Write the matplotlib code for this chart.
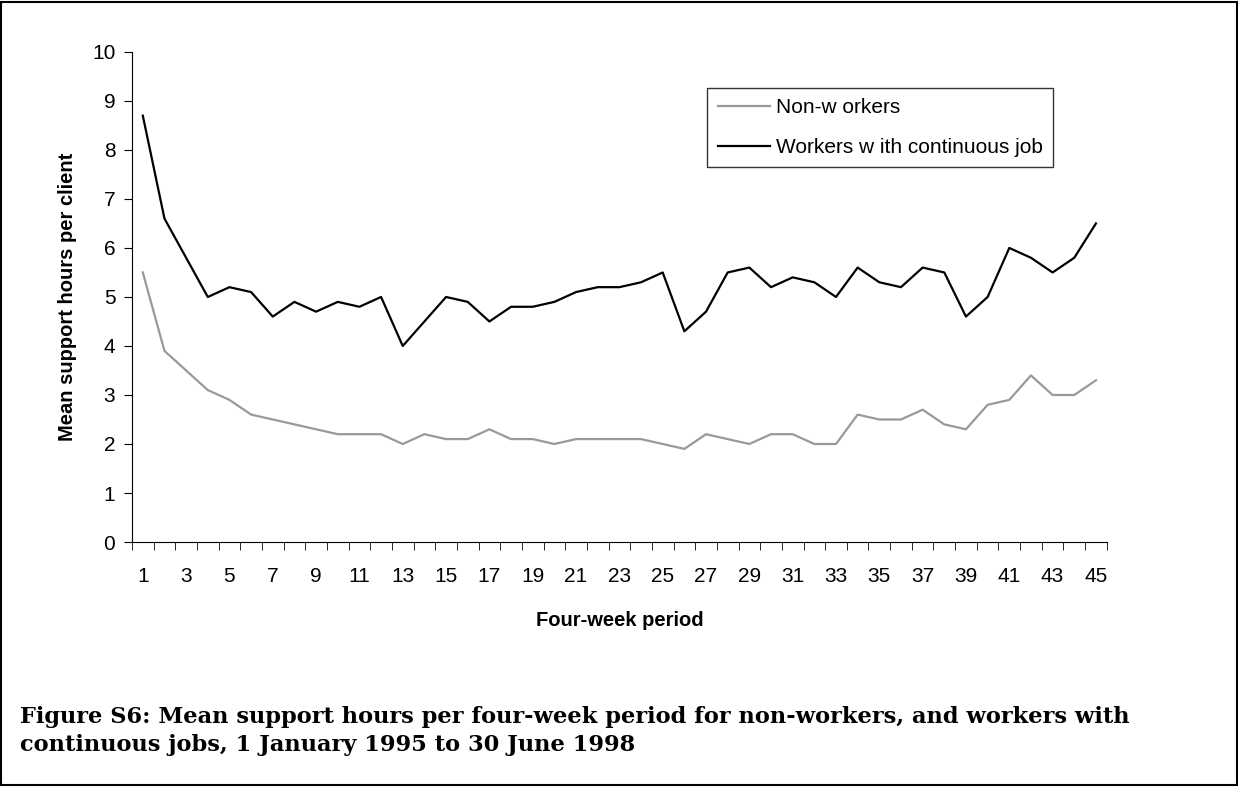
import matplotlib
matplotlib.use('Agg')
import matplotlib.pyplot as plt
from matplotlib.patches import Rectangle

# Periodos de cuatro semanas
periods = list(range(1, 46))

# Horas medias de apoyo por cliente
non_workers = [5.5, 3.9, 3.5, 3.1, 2.9, 2.6, 2.5, 2.4, 2.3, 2.2,
               2.2, 2.2, 2.0, 2.2, 2.1, 2.1, 2.3, 2.1, 2.1, 2.0,
               2.1, 2.1, 2.1, 2.1, 2.0, 1.9, 2.2, 2.1, 2.0, 2.2,
               2.2, 2.0, 2.0, 2.6, 2.5, 2.5, 2.7, 2.4, 2.3, 2.8,
               2.9, 3.4, 3.0, 3.0, 3.3]
workers = [8.7, 6.6, 5.8, 5.0, 5.2, 5.1, 4.6, 4.9, 4.7, 4.9,
           4.8, 5.0, 4.0, 4.5, 5.0, 4.9, 4.5, 4.8, 4.8, 4.9,
           5.1, 5.2, 5.2, 5.3, 5.5, 4.3, 4.7, 5.5, 5.6, 5.2,
           5.4, 5.3, 5.0, 5.6, 5.3, 5.2, 5.6, 5.5, 4.6, 5.0,
           6.0, 5.8, 5.5, 5.8, 6.5]

labels = ['Non-w orkers', 'Workers w ith continuous job']
tick_labels = [str(p) for p in periods if p % 2 == 1]

plt.rcParams['font.family'] = ['Liberation Sans', 'DejaVu Sans']

fig = plt.figure(figsize=(12.38, 7.87), dpi=100)
ax = fig.add_axes([0.1066, 0.3113, 0.7874, 0.6227])

ax.plot(periods, non_workers, color='#999999', lw=1.6, label=labels[0])
ax.plot(periods, workers, color='black', lw=1.6, label=labels[1])

ax.set_xlim(0.5, 45.5)
ax.set_ylim(0, 10)
ax.set_yticks(range(0, 11))
ax.tick_params(axis='y', labelsize=15, length=6, direction='out', pad=6)

# Eje de categorias: marcas entre categorias, etiquetas en impares
ax.set_xticks([p - 0.5 for p in periods] + [45.5], minor=True)
ax.set_xticks([p for p in periods if p % 2 == 1])
ax.set_xticklabels(tick_labels)
ax.tick_params(axis='x', which='major', length=0, labelsize=15, pad=18)
ax.tick_params(axis='x', which='minor', length=6, direction='out')

for s in ['top', 'right']:
    ax.spines[s].set_visible(False)

ax.set_xlabel('Four-week period', fontsize=14.5, fontweight='bold', labelpad=18)
ax.set_ylabel('Mean support hours per client', fontsize=14.5, fontweight='bold', labelpad=11)

leg = ax.legend(loc='upper left', bbox_to_anchor=(0.59, 0.927), fontsize=15,
                frameon=True, fancybox=False, edgecolor='black',
                handlelength=2.5, handletextpad=0.3, borderpad=0.5,
                labelspacing=1.0, borderaxespad=0)
leg.get_frame().set_linewidth(1.0)

fig.text(0.016, 0.103,
         'Figure S6: Mean support hours per four-week period for non-workers, and workers with\n'
         'continuous jobs, 1 January 1995 to 30 June 1998',
         fontsize=16.2, fontweight='bold', family=['DejaVu Serif'], linespacing=1.38,
         ha='left', va='top')

fig.patches.append(Rectangle((0.001, 0.002), 0.998, 0.996, transform=fig.transFigure,
                             fill=False, edgecolor='black', lw=1.5))

fig.savefig('out.png', dpi=100)
